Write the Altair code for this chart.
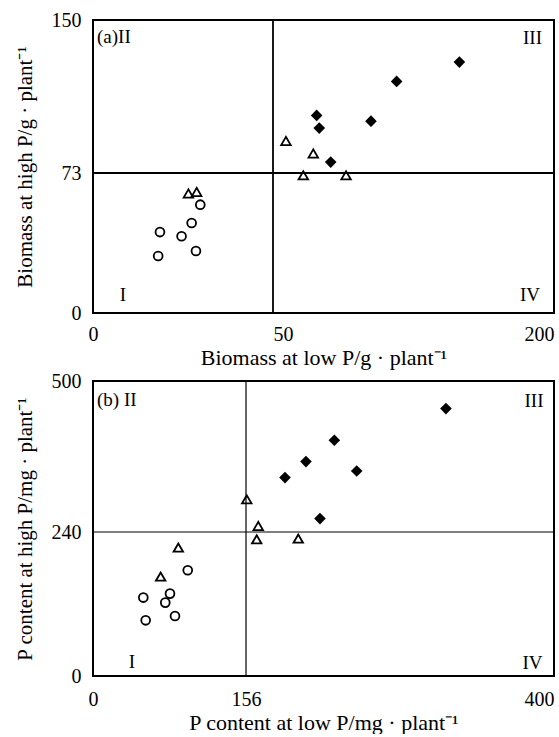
import altair as alt
import pandas as pd

# ---------------- data: panel (a) biomass ----------------
a_circle_low = [18.6, 18.1, 24.6, 27.4, 28.6, 29.8]
a_circle_high = [42.2, 29.7, 40.0, 46.9, 32.3, 56.5]
a_tri_low = [26.5, 28.8, 56.9, 71.5, 66.2, 89.0]
a_tri_high = [62.3, 63.1, 89.1, 82.8, 71.8, 71.8]
a_dia_low = [73.3, 74.7, 80.8, 102.3, 116.0, 149.5]
a_dia_high = [102.0, 95.6, 78.5, 99.1, 119.1, 128.8]
a_x_ticks = [0, 50, 200]
a_y_ticks = [0, 73, 150]

# ---------------- data: panel (b) P content ----------------
b_circle_low = [96.6, 78.5, 51.3, 73.7, 53.7, 83.6]
b_circle_high = [176.2, 137.3, 130.7, 122.3, 92.8, 100.0]
b_tri_low = [87.0, 69.0, 156.6, 165.7, 164.5, 197.4]
b_tri_high = [214.0, 165.7, 296.3, 250.3, 227.8, 229.0]
b_dia_low = [186.9, 203.5, 226.0, 243.7, 214.6, 314.4]
b_dia_high = [333.7, 361.2, 397.9, 345.0, 263.1, 452.5]
b_x_ticks = [0, 156, 400]
b_y_ticks = [0, 240, 500]

FONT = "Liberation Serif"


def panel(circ, tri, dia, xt, yt, xrange, yrange, w, h, xtitle, ytitle,
          labels, xalign_expr, xpad, rule_w):
    xs = alt.Scale(domain=xt, range=xrange)
    ys = alt.Scale(domain=yt, range=yrange)
    xax = alt.Axis(values=xt, title=xtitle, ticks=False, domain=False, grid=False,
                   labelFlush=False, labelOverlap=False, labelPadding=xpad,
                   labelAlign={"expr": xalign_expr}, titlePadding=3,
                   titleFontSize=22)
    yax = alt.Axis(values=yt, title=ytitle, ticks=False, domain=False, grid=False,
                   labelOverlap=False, labelPadding=12, titlePadding=16,
                   titleFontSize=21)

    def pts(xv, yv, shape, filled, size):
        df = pd.DataFrame({"low": xv, "high": yv})
        return alt.Chart(df).mark_point(
            shape=shape, filled=filled, size=size, color="black",
            strokeWidth=1.8, opacity=1
        ).encode(x=alt.X("low:Q", scale=xs, axis=xax),
                 y=alt.Y("high:Q", scale=ys, axis=yax))

    cut = pd.DataFrame({"xc": [xt[1]], "yc": [yt[1]]})
    vrule = alt.Chart(cut).mark_rule(color="black", strokeWidth=rule_w).encode(
        x=alt.X("xc:Q", scale=xs))
    hrule = alt.Chart(cut).mark_rule(color="black", strokeWidth=rule_w).encode(
        y=alt.Y("yc:Q", scale=ys))

    layers = [vrule, hrule,
              pts(*circ, "circle", False, 78),
              pts(*tri, "triangle-up", False, 90),
              pts(*dia, "diamond", True, 135)]
    for txt, xv, yv, align, dx, dy in labels:
        layers.append(
            alt.Chart(pd.DataFrame({"t": [txt]})).mark_text(
                font=FONT, fontSize=19, color="black", align=align,
                baseline="alphabetic", dx=dx, dy=dy
            ).encode(x=alt.datum(xv, scale=xs), y=alt.datum(yv, scale=ys), text="t:N")
        )
    return alt.layer(*layers).properties(width=w, height=h)


pa = panel((a_circle_low, a_circle_high), (a_tri_low, a_tri_high),
           (a_dia_low, a_dia_high), a_x_ticks, a_y_ticks,
           [0, 180, 461], [293, 153, 0], 461, 293,
           "Biomass at low P/g · plant⁻¹", "Biomass at high P/g · plant⁻¹",
           [("(a)II", 0, 150, "left", 4, 22.5),
            ("III", 200, 150, "right", -12, 24),
            ("I", 0, 0, "center", 30, -12.5),
            ("IV", 200, 0, "right", -14, -12.5)],
           "datum.value == 0 ? 'center' : (datum.value == 200 ? 'right' : 'left')",
           11, 1.8)

pb = panel((b_circle_low, b_circle_high), (b_tri_low, b_tri_high),
           (b_dia_low, b_dia_high), b_x_ticks, b_y_ticks,
           [0, 153, 461], [295, 151, 0], 461, 295,
           "P content at low P/mg · plant⁻¹", "P content at high P/mg · plant⁻¹",
           [("(b) II", 0, 500, "left", 4, 25),
            ("III", 400, 500, "right", -10.5, 26),
            ("I", 0, 0, "center", 39, -8),
            ("IV", 400, 0, "right", -11.5, -7)],
           "datum.value == 400 ? 'right' : 'center'",
           13, 1.2)

chart = alt.vconcat(pa, pb, spacing=1).configure(
    font=FONT,
    padding={"left": 12, "top": 9, "right": 0, "bottom": 0},
    background="white",
).configure_view(
    stroke="black", strokeWidth=2
).configure_axis(
    labelFont=FONT, labelFontSize=20, labelColor="black",
    titleFont=FONT, titleFontSize=21, titleFontWeight="normal", titleColor="black",
)

chart.save("out.html", embed_options={"renderer": "svg", "actions": False})
